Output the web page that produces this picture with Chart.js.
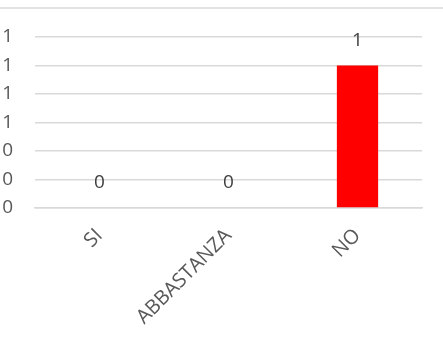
<!DOCTYPE html>
<html>
<head>
<meta charset="utf-8">
<script src="https://cdn.jsdelivr.net/npm/chart.js"></script>
<style>
  html, body { margin: 0; padding: 0; background: #fff; }
  #wrap { position: relative; width: 443px; height: 349px; overflow: hidden; }
  #frame { position: absolute; left: 0; right: 0; top: 7px; height: 0; border-top: 2px solid #e3e3e3; }
  canvas { position: absolute; left: 0; top: 0; }
</style>
</head>
<body>
<div id="wrap">
  <div id="frame"></div>
  <canvas id="chart" width="443" height="349"></canvas>
</div>
<script>
const categories = ['SI', 'ABBASTANZA', 'NO'];
const values = [0, 0, 1];
const yMin = 0;
const yMax = 1.2;
const yStep = 0.2;

const textColor = '#595959';
const labelColor = '#404040';
const gridColor = '#d9d9d9';
const barColor = '#ff0000';
const fontFamily = '"Open Sans", "Liberation Sans", sans-serif';

// value labels above each bar, positioned from the bar elements
const valueLabels = {
  id: 'valueLabels',
  afterDatasetsDraw(chart) {
    const { ctx } = chart;
    const meta = chart.getDatasetMeta(0);
    ctx.save();
    ctx.font = `19px ${fontFamily}`;
    ctx.fillStyle = labelColor;
    ctx.textAlign = 'center';
    ctx.textBaseline = 'middle';
    meta.data.forEach((bar, i) => {
      ctx.fillText(String(values[i]), bar.x, bar.y - 25);
    });
    ctx.restore();
  },
};

new Chart(document.getElementById('chart'), {
  type: 'bar',
  data: {
    labels: categories,
    datasets: [{
      data: values,
      backgroundColor: barColor,
      borderWidth: 0,
      barPercentage: 0.32,
      categoryPercentage: 1,
    }],
  },
  options: {
    responsive: false,
    animation: false,
    layout: {
      padding: { top: 37, right: 21, left: 0, bottom: 0 },
    },
    plugins: {
      legend: { display: false },
      tooltip: { enabled: false },
    },
    scales: {
      x: {
        afterFit: (scale) => { scale.height = 141; },
        grid: { display: false },
        border: { color: gridColor, width: 1.5 },
        ticks: {
          color: textColor,
          font: { family: fontFamily, size: 20 },
          minRotation: 45,
          maxRotation: 45,
          padding: 8,
        },
      },
      y: {
        min: yMin,
        max: yMax,
        afterFit: (scale) => { scale.width = 35; },
        border: { display: false },
        grid: { color: gridColor, lineWidth: 1.5, drawTicks: false },
        ticks: {
          stepSize: yStep,
          color: textColor,
          font: { family: fontFamily, size: 19 },
          padding: 22,
          callback: (v) => Math.round(v),
        },
      },
    },
  },
  plugins: [valueLabels],
});
</script>
</body>
</html>
